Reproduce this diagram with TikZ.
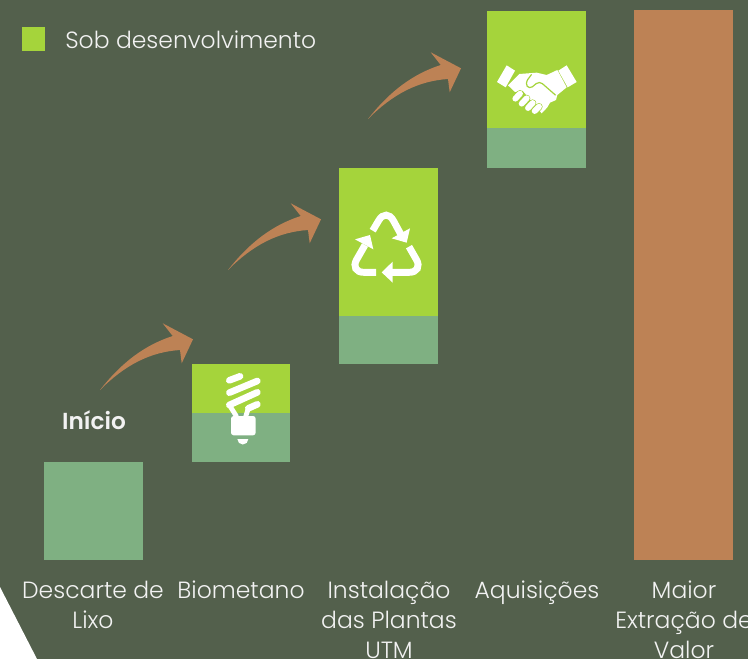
\documentclass[tikz,border=0pt]{standalone}
\usepackage{fontspec}
\setmainfont{Poppins Light}[BoldFont=Poppins SemiBold]
\definecolor{bgc}{HTML}{53604C}
\definecolor{lime}{HTML}{A5D43B}
\definecolor{sage}{HTML}{7FB082}
\definecolor{clay}{HTML}{BD8255}
\definecolor{txt}{HTML}{F2F2F2}
\tikzset{
  lab/.style={text=txt,align=center,anchor=north,inner sep=0pt,font=\fontsize{17.6}{22.5}\selectfont},
  sagebar/.style={fill=sage,draw=none},
  limebar/.style={fill=lime,draw=none}
}
\newcommand{\bigarrow}[2]{%
  \fill[clay,shift={(#1,#2)}] (100,390) .. controls (122,362) and (145,345) .. (172.7,336)
    -- (162.7,323.3) -- (193,339.3) -- (181.7,363.3) -- (180,350)
    .. controls (150,352) and (125,365) .. (100,390) -- cycle;}
\begin{document}
\begin{tikzpicture}[x=0.75pt,y=-0.75pt]
\useasboundingbox (0,0) rectangle (748,659);
\clip (0,0) rectangle (748,659);
\fill[bgc] (0,0) rectangle (748,659);
\fill[white] (0,587) -- (37,659) -- (0,659) -- cycle;
% legend
\fill[lime] (22,27) rectangle (45,51);
\node[lab,anchor=base west] (legend) at (65,49) {Sob desenvolvimento};
% bars
\fill[sagebar] (44,462) rectangle (143,560);
\fill[sagebar] (192,413) rectangle (290,462);
\fill[limebar] (192,364) rectangle (290,413);
\fill[sagebar] (339,316) rectangle (438,364);
\fill[limebar] (339,168) rectangle (438,316);
\fill[sagebar] (487,128) rectangle (586,168);
\fill[limebar] (487,11) rectangle (586,128);
\fill[clay] (634,10) rectangle (733,560);
% arrows
\bigarrow{0}{0}
\bigarrow{128}{-120}
\bigarrow{268}{-271}
% bulb
\begin{scope}[shift={(180,355)},x=0.25pt,y=-0.25pt]
  \draw[white,line width=5pt,line cap=round] (148,76)--(180,64);
  \draw[white,line width=5pt,line cap=round] (148,113)--(232,78);
  \draw[white,line width=5pt,line cap=round] (148,150)--(232,112);
  \draw[white,line width=5pt,line cap=round] (205,160)--(232,148);
  \draw[white,line width=3.6pt] (148,150)--(170,185);
  \draw[white,line width=3.6pt] (205,160)--(197,185);
  \fill[white,rounded corners=2pt] (153,183) rectangle (227,241);
  \fill[white] (205,252) arc (0:180:16.5) -- cycle;
\end{scope}
% recycle
\begin{scope}[shift={(330,160)},x=0.25pt,y=-0.25pt]
  \draw[white,line width=5.2pt,rounded corners=11pt] (128,212)--(169,143)--(212,222);
  \fill[white] (240,205)--(185,235)--(230,248)--cycle;
  \draw[white,line width=5.2pt,rounded corners=11pt] (237,260)--(281,337)--(185,337);
  \fill[white] (188,305)--(155,337)--(188,368)--cycle;
  \draw[white,line width=5.2pt,rounded corners=11pt] (138,337)--(58,337)--(105,255);
  \fill[white] (75,238)--(120,225)--(130,268)--cycle;
\end{scope}
% handshake
\begin{scope}[shift={(470,0)},x=0.25pt,y=-0.25pt]
  \fill[white] (110,196)--(135,212)--(107,262)--(81,246)--cycle;
  \fill[white] (290,196)--(265,212)--(293,262)--(320,246)--cycle;
  \fill[white] (114,256)--(148,222)--(200,218)--(230,225)--(262,210)--(290,262)--(262,285)
     --(258,300)--(240,308)--(232,322)--(215,340)--(158,272)--(135,276)--cycle;
  \draw[lime,line width=0.9pt,line cap=round,line join=round,rounded corners=3pt]
     (184,224)--(165,250)--(178,268)--(208,243)--(256,285);
  \foreach \xa/\ya/\xb/\yb in {136/296/150/281,155/311/170/295,174/324/188/309,194/333/207/320}{
    \draw[lime,line width=5.4pt,line cap=round] (\xa,\ya)--(\xb,\yb);
    \draw[white,line width=4.4pt,line cap=round] (\xa,\ya)--(\xb,\yb);
  }
\end{scope}
% labels
\node[lab,font=\fontsize{17.4}{22.5}\selectfont\bfseries] (inicio) at (94,410) {Início};
\node[lab] (l1) at (93,581) {Descarte de\\Lixo};
\node[lab] (l2) at (241,581) {Biometano};
\node[lab] (l3) at (389,581) {Instalação\\das Plantas\\UTM};
\node[lab] (l4) at (537,581) {Aquisições};
\node[lab] (l5) at (684,581) {Maior\\Extração de\\Valor};
\end{tikzpicture}
\end{document}
